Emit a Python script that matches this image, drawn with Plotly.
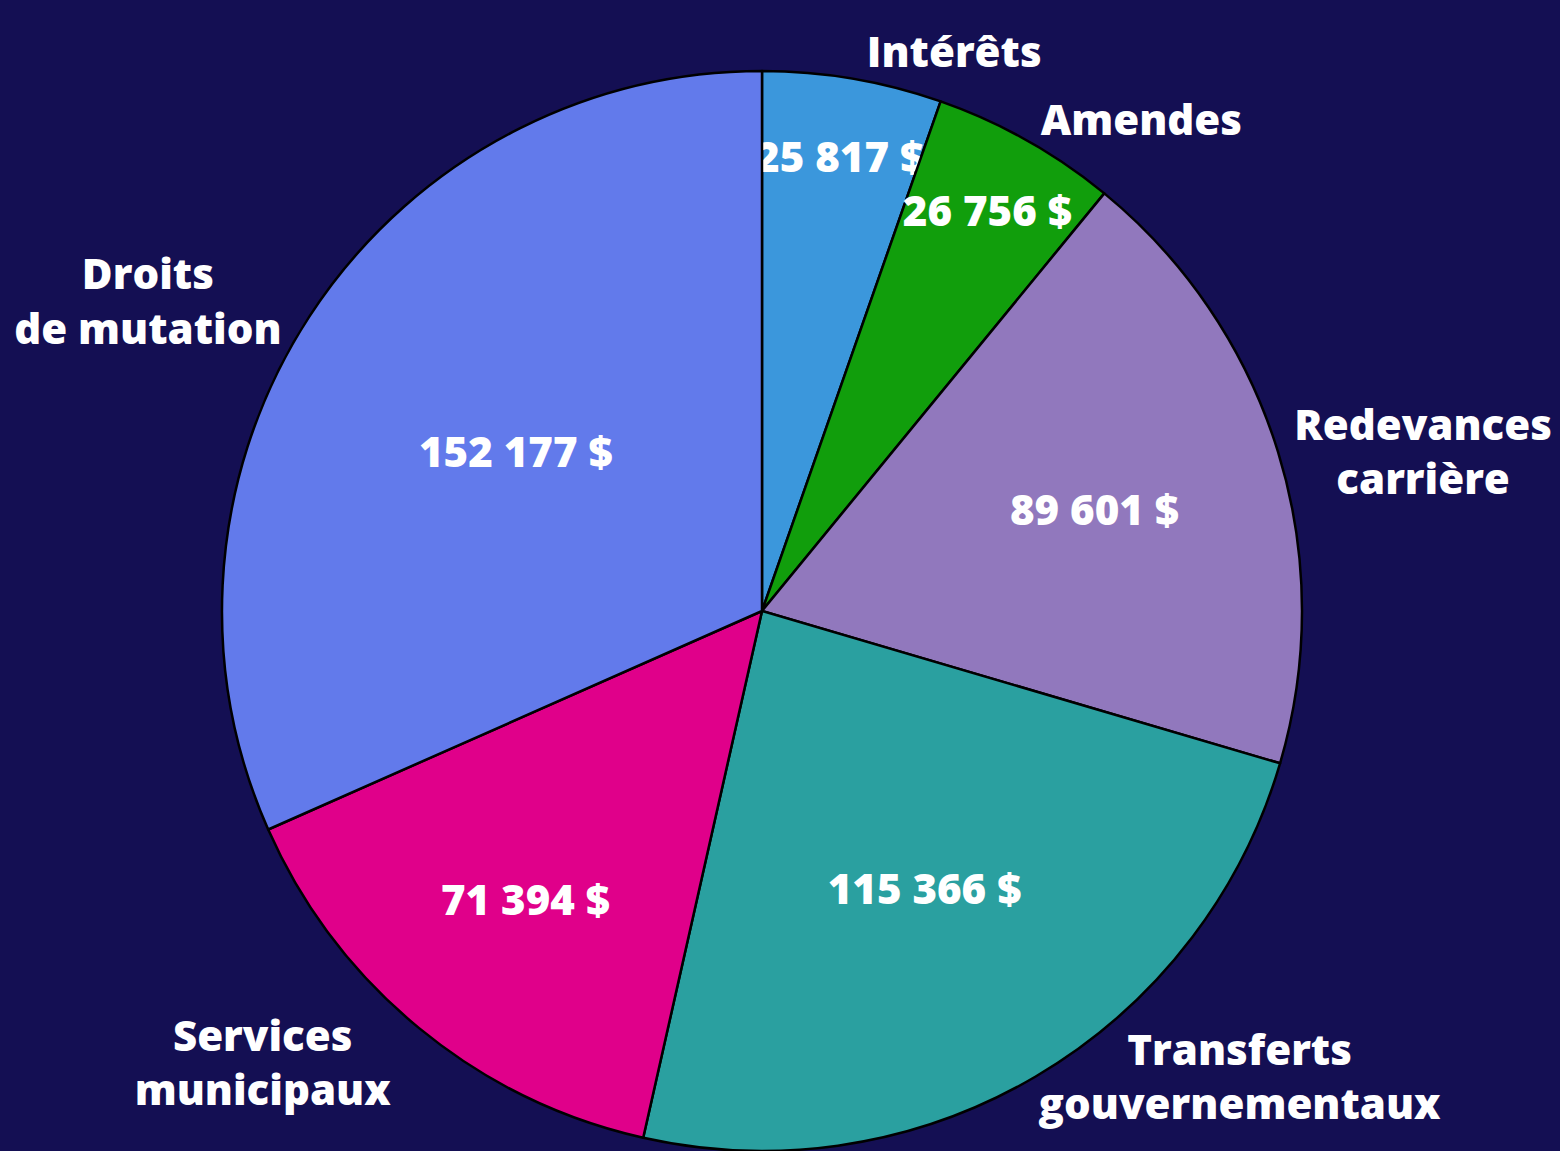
import plotly.graph_objects as go

labels = ["Intérêts", "Amendes", "Redevances<br>carrière", "Transferts<br>gouvernementaux",
          "Services<br>municipaux", "Droits<br>de mutation"]
values = [25817, 26756, 89601, 115366, 71394, 152177]
colors = ["#3b97dc", "#119e0c", "#9178bd", "#2aa0a0", "#e0008a", "#627aeb"]

font_family = "Open Sans"
dom = dict(x=[0.14231, 0.83462], y=[0.0, 0.93832])

fig = go.Figure()

# Slices with their values inside
fig.add_trace(go.Pie(
    labels=labels, values=values, sort=False, direction="clockwise", rotation=0,
    marker=dict(colors=colors, line=dict(color="#000000", width=2.5)),
    textinfo="value", texttemplate="%{value:,.0f} $",
    textposition="inside", insidetextorientation="horizontal",
    insidetextfont=dict(color="white", size=42, family=font_family, weight=800),
    domain=dom, showlegend=False, hoverinfo="label+value", automargin=False,
))

# Invisible copy of the pie that carries the category names outside the rim
fig.add_trace(go.Pie(
    labels=labels, values=values, sort=False, direction="clockwise", rotation=0,
    marker=dict(colors=["rgba(0,0,0,0)"] * len(values), line=dict(width=0)),
    pull=[0.15, 0.15, 0.124, 0.045, 0.15, 0.15],
    textinfo="label", textposition="outside",
    outsidetextfont=dict(color="white", size=42, family=font_family, weight=800),
    domain=dom, showlegend=False, hoverinfo="skip", automargin=False,
))

fig.update_layout(
    width=1560, height=1151,
    margin=dict(l=0, r=0, t=0, b=0, autoexpand=False),
    paper_bgcolor="#140f53", plot_bgcolor="#140f53",
    separators=", ", showlegend=False,
    uniformtext=dict(minsize=42, mode="show"),
    font=dict(family=font_family, color="white"),
)

fig.write_html("out.html")
